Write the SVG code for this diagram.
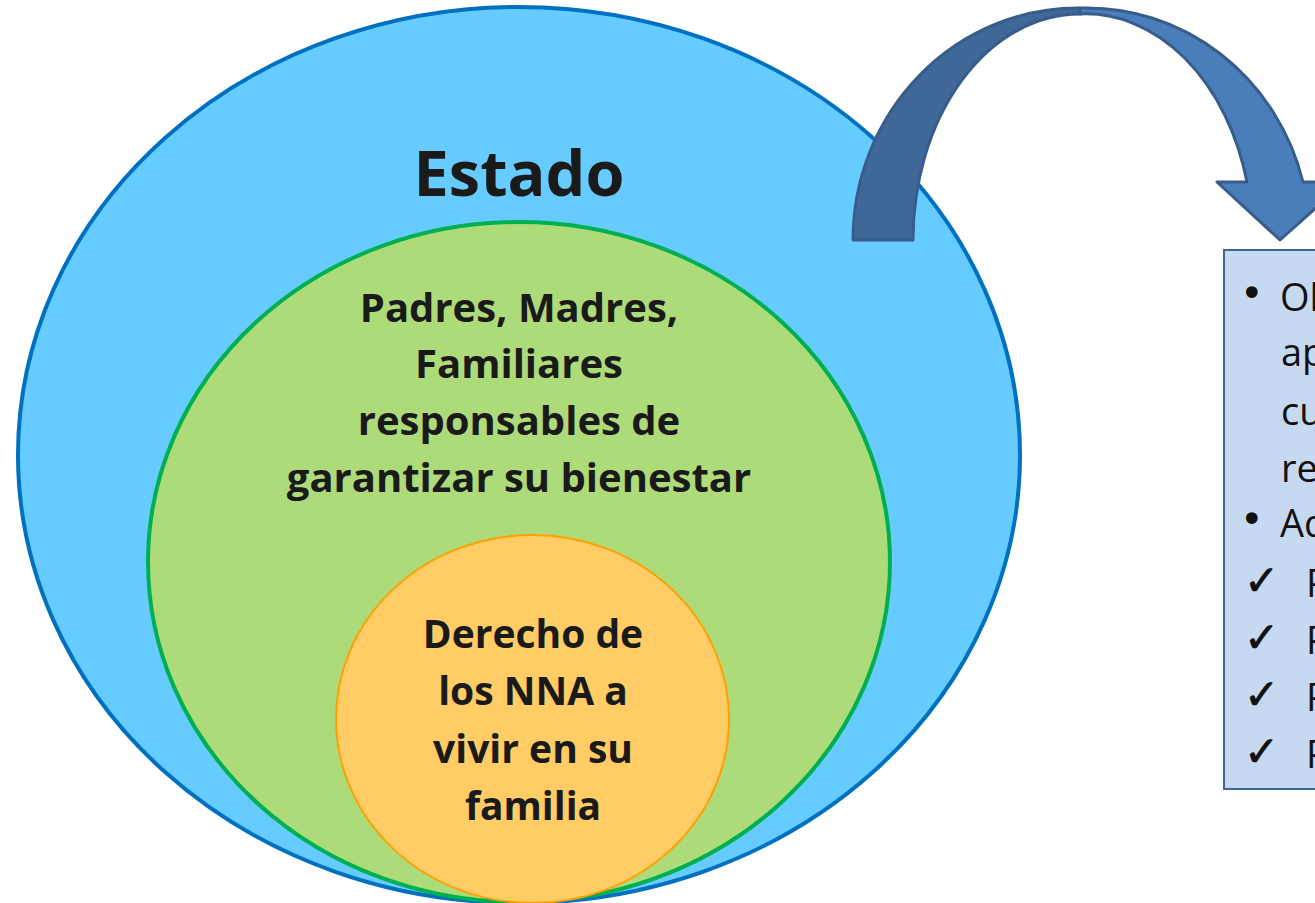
<svg xmlns="http://www.w3.org/2000/svg" width="1315" height="903" viewBox="0 0 1315 903">
<style>
.b{font-family:"Open Sans","Noto Sans",sans-serif;font-weight:bold;fill:#1a1a1a;text-anchor:middle}
.r{font-family:"Open Sans","Noto Sans",sans-serif;font-size:38px;fill:#111}
.bu{font-family:"DejaVu Sans",sans-serif;font-size:40px;fill:#111}
.ck{font-family:"DejaVu Sans",sans-serif;font-size:42px;font-weight:bold;fill:#111;stroke:#111;stroke-width:0.8}
.arr{stroke:#385D8A;stroke-width:3;stroke-linejoin:round}
</style>
<rect width="1315" height="903" fill="#fff"/>
<g id="estado">
<ellipse cx="519" cy="455" rx="501" ry="448" fill="#66CCFF" stroke="#0070C0" stroke-width="4"/>
<text class="b" x="519" y="196" font-size="63">Estado</text>
</g>
<g id="padres">
<ellipse cx="519" cy="562" rx="371" ry="340" fill="#ADDB79" stroke="#00B050" stroke-width="4"/>
<text class="b" font-size="40"><tspan x="519" y="322">Padres, Madres,</tspan><tspan x="519" y="378">Familiares</tspan><tspan x="519" y="435">responsables de</tspan><tspan x="519" y="492">garantizar su bienestar</tspan></text>
</g>
<g id="derecho">
<ellipse cx="532.5" cy="719" rx="196.5" ry="184" fill="#FFCC66" stroke="#FFA000" stroke-width="2"/>
<text class="b" font-size="39"><tspan x="533" y="648">Derecho de</tspan><tspan x="533" y="705">los NNA a</tspan><tspan x="533" y="763">vivir en su</tspan><tspan x="533" y="820">familia</tspan></text>
</g>
<g id="connectors">
<path class="arr" fill="#3F6797" d="M853,240 A225,232 0 0 1 1080,8 L1080,14 A167,226 0 0 0 913,240 Z"/>
<path class="arr" fill="#4A7EBB" d="M1080,8 A223,232 0 0 1 1303,182 L1345,182 L1280,240 L1217,182 L1247,182 A167,226 0 0 0 1080,14 Z"/>
</g>
<g id="box">
<rect x="1224" y="250" width="120" height="539" fill="#C6D9F1" stroke="#3F6594" stroke-width="2"/>
<text class="bu" x="1240" y="307">•</text><text class="r" x="1280" y="311">Ol</text>
<text class="r" x="1281" y="366">ap</text>
<text class="r" x="1281" y="425">cu</text>
<text class="r" x="1281" y="482">re</text>
<text class="bu" x="1240" y="533">•</text><text class="r" x="1280" y="537">Ad</text>
<text class="ck" x="1244" y="595">✓</text><text class="r" x="1306" y="597">P</text>
<text class="ck" x="1244" y="652">✓</text><text class="r" x="1306" y="654">P</text>
<text class="ck" x="1244" y="709">✓</text><text class="r" x="1306" y="711">P</text>
<text class="ck" x="1244" y="766">✓</text><text class="r" x="1306" y="768">P</text>
</g>
</svg>
